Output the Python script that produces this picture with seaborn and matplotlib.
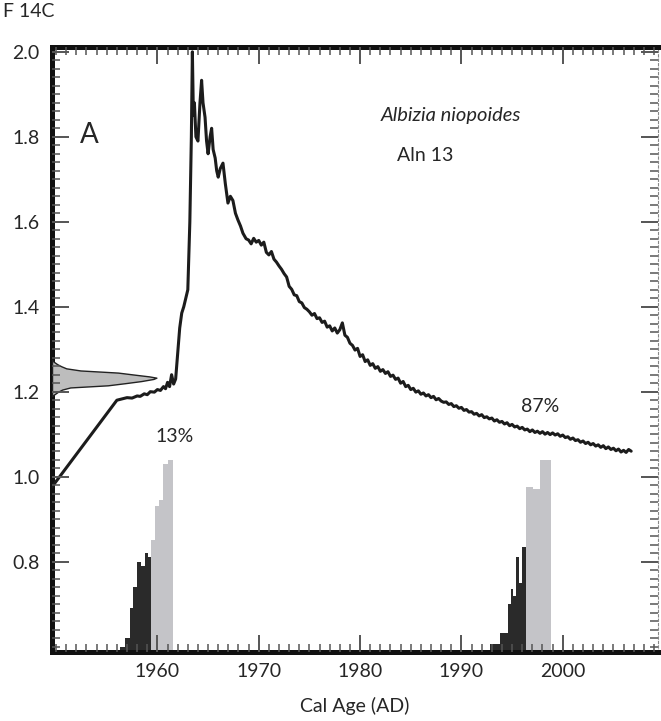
import numpy as np
import matplotlib
matplotlib.use("Agg")
import matplotlib.pyplot as plt
import seaborn as sns

# bomb-curve calibration (F14C vs calendar year)
curve_year = [1949.6, 1956.0, 1956.5, 1957.0, 1957.5, 1958.0, 1958.3, 1958.7, 1959.0, 1959.3,
              1959.7, 1960.0, 1960.3, 1960.6, 1960.8, 1961.0, 1961.2, 1961.4, 1961.6, 1961.8,
              1962.0, 1962.2, 1962.4, 1962.6, 1962.8, 1963.0, 1963.2, 1963.35, 1963.45, 1963.55,
              1963.65, 1963.8, 1964.0, 1964.2, 1964.36, 1964.5, 1964.7, 1964.85, 1965.0, 1965.2,
              1965.35, 1965.5, 1965.7, 1965.85, 1966.0, 1966.2, 1966.47, 1966.7, 1966.96, 1967.2,
              1967.45, 1967.7, 1967.95, 1968.2, 1968.44, 1968.75,
              1969.00, 1969.25, 1969.50, 1969.75, 1970.00, 1970.25, 1970.50, 1970.75, 1971.00, 1971.25,
              1971.50, 1971.75, 1972.00, 1972.25, 1972.50, 1972.75, 1973.00, 1973.25, 1973.50, 1973.75,
              1974.00, 1974.25, 1974.50, 1974.75, 1975.00, 1975.25, 1975.50, 1975.75, 1976.00, 1976.25,
              1976.50, 1976.75, 1977.00, 1977.25, 1977.50, 1977.75, 1978.00, 1978.25, 1978.50, 1978.75,
              1979.00, 1979.25, 1979.50, 1979.75, 1980.00, 1980.25, 1980.50, 1980.75, 1981.00, 1981.25,
              1981.50, 1981.75, 1982.00, 1982.25, 1982.50, 1982.75, 1983.00, 1983.25, 1983.50, 1983.75,
              1984.00, 1984.25, 1984.50, 1984.75, 1985.00, 1985.25, 1985.50, 1985.75, 1986.00, 1986.25,
              1986.50, 1986.75, 1987.00, 1987.25, 1987.50, 1987.75, 1988.00, 1988.25, 1988.50, 1988.75,
              1989.00, 1989.25, 1989.50, 1989.75, 1990.00, 1990.25, 1990.50, 1990.75, 1991.00, 1991.25,
              1991.50, 1991.75, 1992.00, 1992.25, 1992.50, 1992.75, 1993.00, 1993.25, 1993.50, 1993.75,
              1994.00, 1994.25, 1994.50, 1994.75, 1995.00, 1995.25, 1995.50, 1995.75, 1996.00, 1996.25,
              1996.50, 1996.75, 1997.00, 1997.25, 1997.50, 1997.75, 1998.00, 1998.25, 1998.50, 1998.75,
              1999.00, 1999.25, 1999.50, 1999.75, 2000.00, 2000.25, 2000.50, 2000.75, 2001.00, 2001.25,
              2001.50, 2001.75, 2002.00, 2002.25, 2002.50, 2002.75, 2003.00, 2003.25, 2003.50, 2003.75,
              2004.00, 2004.25, 2004.50, 2004.75, 2005.00, 2005.25, 2005.50, 2005.75, 2006.00, 2006.25,
              2006.50, 2006.75]
curve_f14c = [0.976, 1.180, 1.183, 1.186, 1.185, 1.190, 1.189, 1.195, 1.193, 1.200,
              1.199, 1.205, 1.203, 1.212, 1.207, 1.222, 1.212, 1.240, 1.218, 1.230,
              1.290, 1.350, 1.385, 1.400, 1.420, 1.440, 1.600, 1.800, 2.000, 1.850,
              1.880, 1.800, 1.790, 1.880, 1.933, 1.880, 1.846, 1.790, 1.760, 1.800,
              1.820, 1.770, 1.750, 1.720, 1.705, 1.725, 1.738, 1.690, 1.644, 1.660,
              1.650, 1.620, 1.604, 1.590, 1.573, 1.560,
              1.557, 1.548, 1.561, 1.552, 1.556, 1.545, 1.552, 1.528, 1.522, 1.530,
              1.512, 1.505, 1.496, 1.488, 1.478, 1.470, 1.448, 1.441, 1.428, 1.426,
              1.412, 1.409, 1.398, 1.394, 1.388, 1.380, 1.384, 1.372, 1.374, 1.363,
              1.366, 1.352, 1.355, 1.343, 1.350, 1.338, 1.346, 1.362, 1.333, 1.328,
              1.314, 1.309, 1.298, 1.302, 1.283, 1.287, 1.271, 1.275, 1.262, 1.266,
              1.255, 1.259, 1.248, 1.252, 1.243, 1.247, 1.236, 1.239, 1.229, 1.232,
              1.220, 1.224, 1.212, 1.215, 1.205, 1.208, 1.199, 1.202, 1.194, 1.197,
              1.190, 1.193, 1.186, 1.189, 1.181, 1.184, 1.178, 1.175, 1.176, 1.170,
              1.172, 1.165, 1.167, 1.161, 1.163, 1.156, 1.158, 1.152, 1.153, 1.147,
              1.149, 1.143, 1.146, 1.139, 1.141, 1.136, 1.138, 1.131, 1.134, 1.128,
              1.130, 1.124, 1.127, 1.120, 1.123, 1.117, 1.119, 1.113, 1.116, 1.110,
              1.112, 1.106, 1.110, 1.104, 1.107, 1.102, 1.106, 1.100, 1.104, 1.099,
              1.103, 1.098, 1.101, 1.095, 1.098, 1.092, 1.094, 1.088, 1.091, 1.085,
              1.087, 1.081, 1.084, 1.078, 1.081, 1.075, 1.078, 1.072, 1.075, 1.069,
              1.073, 1.066, 1.070, 1.064, 1.067, 1.061, 1.065, 1.058, 1.062, 1.057,
              1.064, 1.060]

# measured F14C distribution (drawn sideways from the y axis), width in years
gauss_f14c = [1.190, 1.195, 1.200, 1.205, 1.210, 1.215, 1.220, 1.225, 1.230, 1.233,
              1.236, 1.240, 1.245, 1.250, 1.255, 1.260, 1.265, 1.270, 1.275]
gauss_width = [0.0, 0.3, 0.6, 1.0, 1.8, 5.5, 7.2, 8.8, 10.0, 10.3,
               9.6, 8.2, 6.5, 2.8, 1.4, 0.9, 0.5, 0.2, 0.0]

# calibrated probability, range 1 (13%)
p1_dark_edges = [1956.3, 1956.8, 1957.3, 1957.6, 1958.0, 1958.4, 1958.8, 1959.1, 1959.4]
p1_dark_top = [0.600, 0.620, 0.690, 0.740, 0.800, 0.790, 0.820, 0.810]
p1_light_edges = [1959.4, 1959.75, 1960.2, 1960.57, 1961.0, 1961.5]
p1_light_top = [0.851, 0.930, 0.945, 1.030, 1.040]

# calibrated probability, range 2 (87%)
p2_dark_edges = [1992.8, 1993.8, 1994.6, 1994.9, 1995.1, 1995.4, 1995.7, 1996.0, 1996.4]
p2_dark_top = [0.605, 0.632, 0.700, 0.735, 0.720, 0.810, 0.750, 0.835]
p2_light_edges = [1996.4, 1997.1, 1997.8, 1998.8]
p2_light_top = [0.975, 0.970, 1.040]

x_ticks = [1960, 1970, 1980, 1990, 2000]
y_ticks = [0.8, 1.0, 1.2, 1.4, 1.6, 1.8, 2.0]
xlim = (1949.6, 2009.4)
ylim = (0.588, 2.012)

sns.set_style("ticks")
plt.rcParams['font.family'] = ['Lato', 'DejaVu Sans']

fig = plt.figure(figsize=(6.61, 7.21), dpi=100)
ax = fig.add_axes([0.0787, 0.0961, 0.9168, 0.8391])

dark = "#2a2a2a"
light = "#c4c4c8"
fs = 14

# probability histograms sitting on the x axis
for edges, tops, col in [(p1_dark_edges, p1_dark_top, dark), (p1_light_edges, p1_light_top, light),
                         (p2_dark_edges, p2_dark_top, dark), (p2_light_edges, p2_light_top, light)]:
    ax.fill_between(edges, tops + [tops[-1]], ylim[0], step="post", color=col, lw=0, zorder=2)

# sideways gaussian of the measurement
gx = [xlim[0] + w for w in gauss_width]
ax.fill_betweenx(gauss_f14c, xlim[0], gx, color="#bdbdbd", edgecolor="#222222", lw=1.0, zorder=3)

sns.lineplot(x=curve_year, y=curve_f14c, ax=ax, color="#1c1c1c", linewidth=2.2,
             sort=False, estimator=None, zorder=4)

ax.set_xlim(*xlim)
ax.set_ylim(*ylim)
ax.set_xticks(x_ticks)
ax.set_xticks(np.arange(1950, 2010), minor=True)
ax.set_yticks(y_ticks)
ax.set_yticks(np.arange(0.6, 2.01, 0.02), minor=True)
ax.set_yticklabels([f"{v:.1f}" for v in y_ticks])

ax.set_axisbelow(False)
ax.tick_params(axis="x", which="both", direction="in", top=True, bottom=True, labelsize=fs,
               pad=8, color="#555555")
ax.tick_params(axis="y", which="both", direction="in", left=True, right=True, labelsize=fs,
               pad=9, color="#555555")
ax.tick_params(which="major", length=12, width=1.4)
ax.tick_params(which="minor", length=6, width=1.1)
ax.xaxis.set_zorder(6)
ax.yaxis.set_zorder(6)

for side in ["left", "top", "bottom"]:
    ax.spines[side].set_linewidth(3.6)
    ax.spines[side].set_edgecolor("#111111")
ax.spines["right"].set_linestyle((0, (2, 2)))
ax.spines["right"].set_linewidth(0.8)
ax.spines["right"].set_edgecolor("#888888")

ax.set_xlabel("Cal Age (AD)", fontsize=fs, labelpad=12)
ax.set_ylabel("F 14C", fontsize=fs, rotation=0)
ax.yaxis.set_label_coords(-0.038, 1.044)

ax.text(1953.3, 1.804, "A", fontsize=20, ha="center", va="center")
ax.text(1989.0, 1.851, "Albizia niopoides", fontsize=14.5, style="italic", ha="center", va="center")
ax.text(1986.45, 1.755, "Aln 13", fontsize=fs, ha="center", va="center")
ax.text(1961.7, 1.094, "13%", fontsize=fs, ha="center", va="center")
ax.text(1997.75, 1.164, "87%", fontsize=fs, ha="center", va="center")

fig.savefig("out.png", dpi=100)
